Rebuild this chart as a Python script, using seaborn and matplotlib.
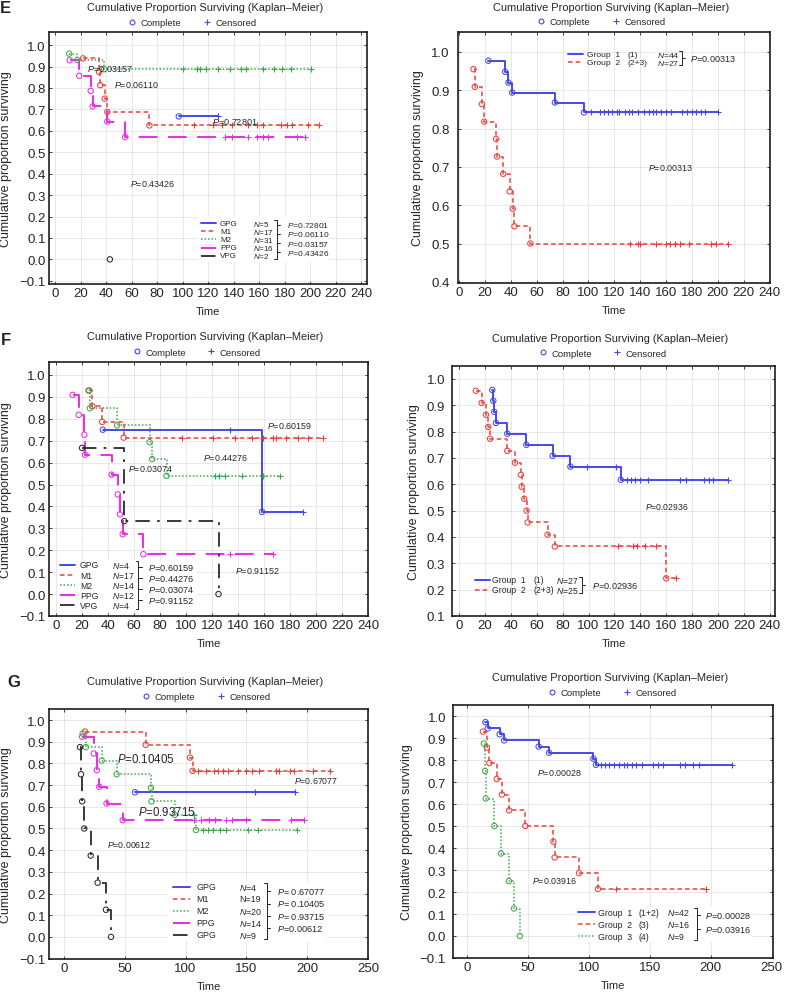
import matplotlib
matplotlib.use('Agg')
import matplotlib.pyplot as plt
from matplotlib.lines import Line2D
from matplotlib.patches import Rectangle
from matplotlib.ticker import FuncFormatter
import numpy as np
import seaborn as sns

# ---------------- values ----------------
# E, left  (event times t, survival s, censored times c)
e_gpg_t, e_gpg_s, e_gpg_c = [97], [0.667], [128]
e_m1_t = [22, 34.5, 35.5, 39, 41, 74]
e_m1_s = [0.938, 0.875, 0.813, 0.750, 0.688, 0.625]
e_m1_c = [109, 124, 131, 139, 151, 158, 163, 177, 182, 186, 198, 207]
e_m2_t = [11, 17.5, 38.5]
e_m2_s = [0.960, 0.930, 0.887]
e_m2_c = [100, 111, 114, 118, 128, 137, 146, 150, 163, 172, 178, 185, 201]
e_ppg_t = [11.5, 19, 28, 29.5, 41, 55]
e_ppg_s = [0.929, 0.857, 0.786, 0.714, 0.643, 0.571]
e_ppg_c = [133, 139, 151, 158, 163, 167, 190, 196]
e_vpg_t, e_vpg_s, e_vpg_c = [43], [0.0], []

# E, right
e_g1_t = [22.5, 35.5, 38, 41, 74, 96.5]
e_g1_s = [0.977, 0.948, 0.920, 0.894, 0.868, 0.842]
e_g1_c = [102, 109, 112, 115, 118, 122, 124, 128, 131, 134, 138, 143, 147,
          150, 152, 156, 160, 164, 172, 176, 180, 183, 187, 190, 200]
e_g2_t = [11, 12, 17.5, 19.3, 28.5, 29.2, 34, 39, 41.4, 42.7, 55]
e_g2_s = [0.955, 0.909, 0.864, 0.818, 0.773, 0.727, 0.682, 0.636, 0.591, 0.545, 0.5]
e_g2_c = [132, 138, 140, 152.5, 160, 163, 167, 170.5, 178, 195, 199, 208]

# F, left
f_gpg_t, f_gpg_s, f_gpg_c = [36, 158.5], [0.75, 0.375], [134, 190]
f_m1_t = [25, 28, 35.5, 52]
f_m1_s = [0.929, 0.857, 0.786, 0.714]
f_m1_c = [97, 121, 138, 150.5, 159.5, 167, 169, 177, 186, 194, 205]
f_m2_t = [25.6, 26, 47, 72, 74, 85]
f_m2_s = [0.929, 0.848, 0.770, 0.693, 0.616, 0.540]
f_m2_c = [122, 125, 130, 143, 159.5, 172]
f_ppg_t = [12.8, 17.5, 21.8, 22.3, 42.8, 47.5, 49.2, 51.3, 67.2]
f_ppg_s = [0.909, 0.818, 0.727, 0.636, 0.545, 0.455, 0.364, 0.273, 0.182]
f_ppg_c = [134, 167]
f_vpg_t, f_vpg_s, f_vpg_c = [20, 52.5, 125], [0.667, 0.333, 0.0], []

# F, right
f_g1_t = [25.7, 26.5, 27.2, 28.5, 37.3, 52, 72.3, 86, 125]
f_g1_s = [0.958, 0.917, 0.875, 0.833, 0.792, 0.750, 0.708, 0.667, 0.617]
f_g1_c = [99, 121, 130, 133, 136, 140, 146, 171, 175, 189, 193, 196, 208]
f_g2_t = [13, 17.5, 20.8, 22.6, 24, 37.3, 43.2, 47.8, 48.4, 50.4, 52.2, 53, 68.4, 74, 160]
f_g2_s = [0.955, 0.909, 0.864, 0.818, 0.773, 0.727, 0.682, 0.636, 0.591, 0.545,
          0.5, 0.455, 0.409, 0.364, 0.243]
f_g2_c = [123, 134.5, 137.6, 143.5, 152.5, 167.5]

# G, left
g_gpg_t, g_gpg_s, g_gpg_c = [58.4], [0.667], [157, 190]
g_m1_t = [17.3, 67.2, 103.6, 105.8]
g_m1_s = [0.947, 0.886, 0.827, 0.766]
g_m1_c = [110, 117, 123, 127, 131, 135, 143, 150, 155, 160, 174, 177, 186, 189, 204.5, 219]
g_m2_t = [15.4, 18, 31, 43.3, 71.5, 72, 91, 108.5]
g_m2_s = [0.938, 0.875, 0.813, 0.75, 0.688, 0.625, 0.563, 0.493]
g_m2_c = [107, 114.6, 118.7, 122.8, 128.3, 133.2, 151.6, 159.8, 192]
g_ppg_t = [15, 24.5, 27, 29, 35, 48.3]
g_ppg_s = [0.923, 0.846, 0.769, 0.692, 0.615, 0.538]
g_ppg_c = [107, 113, 119.5, 124, 133, 138, 150, 187, 197]
g_vpg_t = [13.2, 14, 15, 16.7, 22, 27.7, 34.5, 38.7]
g_vpg_s = [0.875, 0.75, 0.625, 0.5, 0.375, 0.25, 0.125, 0.0]
g_vpg_c = []

# G, right
g_g1_t = [15.3, 17.2, 26.9, 30.6, 58.9, 67.5, 103.8, 105.9]
g_g1_s = [0.972, 0.944, 0.917, 0.889, 0.861, 0.833, 0.806, 0.778]
g_g1_c = [110, 113, 116.7, 120.7, 124.8, 128.8, 131.5, 135.5, 139, 143.5, 153, 157,
          160.5, 174.4, 178.5, 185.2, 190.6, 217.5]
g_g2_t = [13.2, 16.4, 18.5, 24.5, 28.8, 34.7, 48, 71, 72, 92, 107.5]
g_g2_s = [0.929, 0.857, 0.786, 0.714, 0.643, 0.571, 0.5, 0.429, 0.357, 0.286, 0.214]
g_g2_c = [122, 196]
g_g3_t = [14, 15, 15.5, 22.6, 28, 34.5, 38.7, 43.5]
g_g3_s = [0.875, 0.75, 0.625, 0.5, 0.375, 0.25, 0.125, 0.0]
g_g3_c = []

# ---------------- styling ----------------
BLUE, RED, GREEN, MAG, BLK = '#4848ea', '#e8413c', '#3fa94a', '#e433e0', '#2a2a2a'
STYLE = {
    'GPG': (BLUE, '-', 1.4),
    'M1': (RED, (0, (3, 2)), 1.1),
    'M2': (GREEN, (0, (1, 1.3)), 1.1),
    'PPG': (MAG, (0, (9, 5)), 1.5),
    'VPG': (BLK, (0, (8, 4, 1.5, 4)), 1.3),
}
TITLE = 'Cumulative Proportion Surviving (Kaplan\u2013Meier)'
W, H = 785, 995

sns.set_style('ticks')
plt.rcParams['font.family'] = ['Liberation Sans', 'DejaVu Sans']
plt.rcParams['mathtext.fontset'] = 'custom'
plt.rcParams['mathtext.rm'] = 'Liberation Sans'
plt.rcParams['mathtext.it'] = 'Liberation Sans:italic'

fig = plt.figure(figsize=(W / 100, H / 100), dpi=100)


def km_curve(ax, t, s, c, sty):
    color, ls, lw = STYLE[sty]
    t = np.asarray(t, float)
    s = np.asarray(s, float)
    c = np.asarray(c, float)
    lt, ls_ = list(t), list(s)
    if len(c) and c.max() > t[-1]:
        lt.append(c.max())
        ls_.append(s[-1])
    if len(lt) > 1:
        sns.lineplot(x=lt, y=ls_, ax=ax, color=color, linestyle=ls, linewidth=lw,
                     drawstyle='steps-post', estimator=None, sort=False, zorder=3)
    sns.scatterplot(x=t, y=s, ax=ax, marker='o', s=15, facecolor='none',
                    edgecolor=color, linewidth=0.75, zorder=4)
    if len(c):
        idx = np.clip(np.searchsorted(t, c, side='right') - 1, 0, None)
        sns.scatterplot(x=c, y=s[idx], ax=ax, marker='+', s=20, color=color,
                        linewidth=0.8, zorder=4)


def add_panel(box, xlim, ylim, xticks, yticks, title_y, leg_x, leg_y, tpad=2.5):
    l, t, r, b = box
    ax = fig.add_axes([l / W, 1 - b / H, (r - l) / W, (b - t) / H])
    ax.set_xlim(*xlim)
    ax.set_ylim(*ylim)
    ax.set_xticks(xticks)
    ax.set_yticks(yticks)
    ax.yaxis.set_major_formatter(FuncFormatter(lambda v, p: f'{v:.1f}'.replace('-', '\u2212')))
    ax.set_axisbelow(True)
    ax.grid(True, color='#e4e4e4', lw=0.6)
    for sp in ax.spines.values():
        sp.set_color('#1e1e1e')
        sp.set_linewidth(1.2)
    ax.tick_params(direction='in', length=2.5, width=0.6, top=True, right=True,
                   labelsize=9.5, pad=2.5)
    ax.tick_params(axis='y', pad=tpad)
    h, w = b - t, r - l
    ax.text(0.49, 1 + (t - title_y) / h, TITLE, transform=ax.transAxes,
            ha='center', va='center', fontsize=7.9)
    handles = [Line2D([], [], ls='none', marker='o', mfc='none', mec=BLUE, ms=3.5, mew=0.8),
               Line2D([], [], ls='none', marker='+', color=BLUE, ms=4.5, mew=0.8)]
    ax.legend(handles, ['Complete', 'Censored'], loc='center',
              bbox_to_anchor=((leg_x - l) / w, 1 + (t - leg_y) / h), ncol=2,
              frameon=False, fontsize=6.8, handlelength=1, handletextpad=0.4,
              columnspacing=2.2, borderaxespad=0, borderpad=0)
    ax.set_xlabel('Time', fontsize=8, labelpad=5)
    ax.set_ylabel('Cumulative proportion surviving', fontsize=9, labelpad=5)
    return ax


def key_table(ax, rows, xs, y0, dy, pvals, py0, pdy, fs=5.8, pfs=6.4, box=None):
    tr = ax.transAxes
    if box:
        ax.add_patch(Rectangle((box[0], box[1]), box[2] - box[0], box[3] - box[1],
                               transform=tr, fc='white', ec='none', zorder=1.5))
    for i, (sty, lab, sub, nlab) in enumerate(rows):
        y = y0 - i * dy
        color, ls, lw = STYLE[sty]
        ax.plot([xs[0], xs[1]], [y, y], transform=tr, color=color, ls=ls, lw=lw, zorder=5)
        ax.text(xs[2], y, lab, transform=tr, fontsize=fs, va='center', zorder=5)
        if sub:
            ax.text(xs[3], y, sub, transform=tr, fontsize=fs, va='center', zorder=5)
        ax.text(xs[4], y, nlab, transform=tr, fontsize=fs, va='center', zorder=5)
    xb = xs[5]
    yt = y0 + 0.35 * dy
    yb = y0 - (len(rows) - 1) * dy - 0.35 * dy
    ax.plot([xb - 0.008, xb, xb, xb - 0.008], [yt, yt, yb, yb], transform=tr,
            color='#222222', lw=0.7, zorder=5)
    for j, p in enumerate(pvals):
        py = py0 - j * pdy
        ax.plot([xb, xb + 0.01], [py, py], transform=tr, color='#222222', lw=0.7, zorder=5)
        ax.text(xs[6], py, p, transform=tr, fontsize=pfs, va='center', zorder=5)


def notes(ax, items):
    for txt, x, y, fs in items:
        ax.text(x, y, txt, fontsize=fs, va='center', ha='left', zorder=6)


yt_full = np.round(np.arange(-0.1, 1.01, 0.1), 1)
xt240 = np.arange(0, 241, 20)
xt250 = np.arange(0, 251, 50)

# ---- E left ----
ax = add_panel((49, 33, 367, 285), (-4.7, 244.5), (-0.115, 1.061), xt240, yt_full, 8.3, 192, 24)
for t, s, c, sty in [(e_gpg_t, e_gpg_s, e_gpg_c, 'GPG'), (e_m1_t, e_m1_s, e_m1_c, 'M1'),
                     (e_m2_t, e_m2_s, e_m2_c, 'M2'), (e_ppg_t, e_ppg_s, e_ppg_c, 'PPG'),
                     (e_vpg_t, e_vpg_s, e_vpg_c, 'VPG')]:
    km_curve(ax, t, s, c, sty)
notes(ax, [('$P$=0.03157', 25, 0.893, 6.6), ('$P$=0.06110', 46, 0.82, 6.4),
           ('$P$=0.72801', 123, 0.645, 6.6), ('$P$=0.43426', 59, 0.356, 6.4)])
key_table(ax, [('GPG', 'GPG', None, '$N$=5'), ('M1', 'M1', None, '$N$=17'),
               ('M2', 'M2', None, '$N$=31'), ('PPG', 'PPG', None, '$N$=16'),
               ('VPG', 'VPG', None, '$N$=2')],
          (0.479, 0.526, 0.538, 0, 0.642, 0.716, 0.748), 0.242, 0.0325,
          ['$P$=0.72801', '$P$=0.06110', '$P$=0.03157', '$P$=0.43426'], 0.235, 0.0365,
          fs=5.8, pfs=6.0, box=(0.469, 0.087, 0.877, 0.266))
fig.text(0.0, 1 - 1 / H, 'E', fontsize=12, fontweight='bold', va='top')

# ---- E right ----
ax = add_panel((458, 33, 770, 284), (-1, 240.5), (0.397, 1.052), xt240,
               np.round(np.arange(0.4, 1.01, 0.1), 1), 8.3, 601, 22.7, tpad=6)
km_curve(ax, e_g1_t, e_g1_s, e_g1_c, 'GPG')
km_curve(ax, e_g2_t, e_g2_s, e_g2_c, 'M1')
notes(ax, [('$P$=0.00313', 146, 0.70, 6.4)])
key_table(ax, [('GPG', 'Group  1', '(1)', '$N$=44'), ('M1', 'Group  2', '(2+3)', '$N$=27')],
          (0.354, 0.402, 0.412, 0.543, 0.637, 0.717, 0.744), 0.912, 0.033,
          ['$P$=0.00313'], 0.895, 0, fs=6.1, pfs=6.6)

# ---- F left ----
ax = add_panel((49, 363, 368, 617), (-5.4, 240), (-0.1, 1.059), xt240, yt_full, 336.7, 196.5, 353.3)
for t, s, c, sty in [(f_gpg_t, f_gpg_s, f_gpg_c, 'GPG'), (f_m1_t, f_m1_s, f_m1_c, 'M1'),
                     (f_m2_t, f_m2_s, f_m2_c, 'M2'), (f_ppg_t, f_ppg_s, f_ppg_c, 'PPG'),
                     (f_vpg_t, f_vpg_s, f_vpg_c, 'VPG')]:
    km_curve(ax, t, s, c, sty)
notes(ax, [('$P$=0.60159', 162, 0.77, 6.4), ('$P$=0.44276', 113, 0.624, 6.4),
           ('$P$=0.03074', 55, 0.575, 6.4), ('$P$=0.91152', 138, 0.111, 6.4)])
key_table(ax, [('GPG', 'GPG', None, '$N$=4'), ('M1', 'M1', None, '$N$=17'),
               ('M2', 'M2', None, '$N$=14'), ('PPG', 'PPG', None, '$N$=12'),
               ('VPG', 'VPG', None, '$N$=4')],
          (0.0345, 0.0815, 0.097, 0, 0.197, 0.28, 0.311), 0.2008, 0.0395,
          ['$P$=0.60159', '$P$=0.44276', '$P$=0.03074', '$P$=0.91152'], 0.192, 0.043,
          fs=6.2, pfs=6.6, box=(0.024, 0.021, 0.463, 0.222))
fig.text(1 / W, 1 - 333 / H, 'F', fontsize=12, fontweight='bold', va='top')

# ---- F right ----
ax = add_panel((452, 367, 775, 617), (-5.4, 244), (0.1, 1.049), xt240,
               np.round(np.arange(0.1, 1.01, 0.1), 1), 339, 602.5, 354.3, tpad=5)
km_curve(ax, f_g1_t, f_g1_s, f_g1_c, 'GPG')
km_curve(ax, f_g2_t, f_g2_s, f_g2_c, 'M1')
notes(ax, [('$P$=0.02936', 143.5, 0.516, 6.2)])
key_table(ax, [('GPG', 'Group  1', '(1)', '$N$=27'), ('M1', 'Group  2', '(2+3)', '$N$=25')],
          (0.071, 0.118, 0.123, 0.252, 0.321, 0.402, 0.433), 0.144, 0.039,
          ['$P$=0.02936'], 0.125, 0, fs=6.2, pfs=6.6)

# ---- G left ----
ax = add_panel((49, 710, 368, 960), (-12.3, 250), (-0.102, 1.051), xt250, yt_full, 682, 206, 697.7)
for t, s, c, sty in [(g_gpg_t, g_gpg_s, g_gpg_c, 'GPG'), (g_m1_t, g_m1_s, g_m1_c, 'M1'),
                     (g_m2_t, g_m2_s, g_m2_c, 'M2'), (g_ppg_t, g_ppg_s, g_ppg_c, 'PPG'),
                     (g_vpg_t, g_vpg_s, g_vpg_c, 'VPG')]:
    km_curve(ax, t, s, c, sty)
notes(ax, [('$P$=0.10405', 43.3, 0.823, 8.3), ('$P$=0.93715', 60.6, 0.576, 8.3),
           ('$P$=0.00612', 35.6, 0.427, 6.3), ('$P$=0.67077', 189.4, 0.723, 6.3)])
key_table(ax, [('GPG', 'GPG', None, '$N$=4'), ('M1', 'M1', None, 'N=19'),
               ('M2', 'M2', None, '$N$=20'), ('PPG', 'PPG', None, '$N$=14'),
               ('VPG', 'GPG', None, '$N$=9')],
          (0.39, 0.442, 0.463, 0, 0.597, 0.682, 0.714), 0.288, 0.048,
          ['$P$= 0.67077', '$P$= 0.10405', '$P$= 0.93715', '$P$=0.00612'], 0.271, 0.049,
          fs=6.4, pfs=6.6, box=(0.373, 0.072, 0.871, 0.308))
fig.text(7 / W, 1 - 675 / H, 'G', fontsize=12, fontweight='bold', va='top')

# ---- G right ----
ax = add_panel((453, 706, 773, 959), (-11.3, 251), (-0.1, 1.05), xt250, yt_full, 678, 611.7, 694,
               tpad=5)
km_curve(ax, g_g1_t, g_g1_s, g_g1_c, 'GPG')
km_curve(ax, g_g2_t, g_g2_s, g_g2_c, 'M1')
km_curve(ax, g_g3_t, g_g3_s, g_g3_c, 'M2')
notes(ax, [('$P$=0.00028', 57.5, 0.744, 6.4), ('$P$=0.03916', 53.5, 0.255, 6.4)])
key_table(ax, [('GPG', 'Group  1', '(1+2)', '$N$=42'), ('M1', 'Group  2', '(3)', '$N$=16'),
               ('M2', 'Group  3', '(4)', '$N$=9')],
          (0.392, 0.443, 0.454, 0.58, 0.668, 0.762, 0.788), 0.181, 0.0475,
          ['$P$=0.00028', '$P$=0.03916'], 0.171, 0.056,
          fs=6.3, pfs=6.6, box=(0.382, 0.062, 0.937, 0.207))

fig.savefig('out.png', dpi=100)
